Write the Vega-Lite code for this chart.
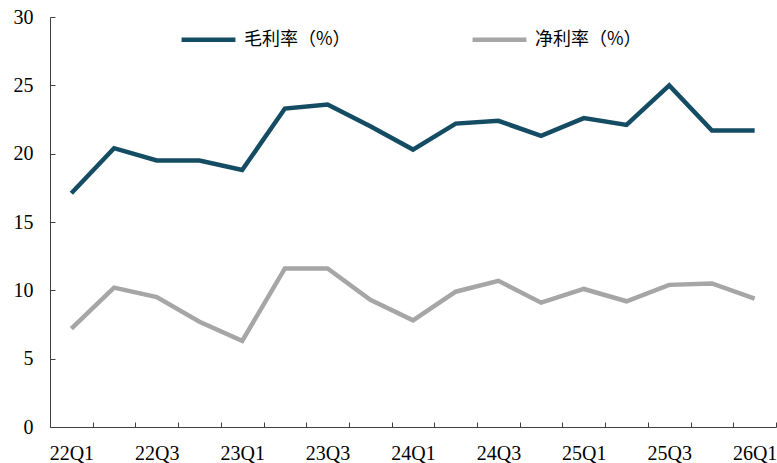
{
  "$schema": "https://vega.github.io/schema/vega-lite/v6.json",
  "width": 726,
  "height": 410,
  "autosize": {"type": "none"},
  "padding": {"left": 50, "top": 17, "right": 1, "bottom": 36},
  "background": "white",
  "config": {"view": {"stroke": null}},
  "data": {
    "values": [
      {"q": "22Q1", "s": "毛利率（%）", "v": 17.1},
      {"q": "22Q2", "s": "毛利率（%）", "v": 20.4},
      {"q": "22Q3", "s": "毛利率（%）", "v": 19.5},
      {"q": "22Q4", "s": "毛利率（%）", "v": 19.5},
      {"q": "23Q1", "s": "毛利率（%）", "v": 18.8},
      {"q": "23Q2", "s": "毛利率（%）", "v": 23.3},
      {"q": "23Q3", "s": "毛利率（%）", "v": 23.6},
      {"q": "23Q4", "s": "毛利率（%）", "v": 22.0},
      {"q": "24Q1", "s": "毛利率（%）", "v": 20.3},
      {"q": "24Q2", "s": "毛利率（%）", "v": 22.2},
      {"q": "24Q3", "s": "毛利率（%）", "v": 22.4},
      {"q": "24Q4", "s": "毛利率（%）", "v": 21.3},
      {"q": "25Q1", "s": "毛利率（%）", "v": 22.6},
      {"q": "25Q2", "s": "毛利率（%）", "v": 22.1},
      {"q": "25Q3", "s": "毛利率（%）", "v": 25.0},
      {"q": "25Q4", "s": "毛利率（%）", "v": 21.7},
      {"q": "26Q1", "s": "毛利率（%）", "v": 21.7},
      {"q": "22Q1", "s": "净利率（%）", "v": 7.2},
      {"q": "22Q2", "s": "净利率（%）", "v": 10.2},
      {"q": "22Q3", "s": "净利率（%）", "v": 9.5},
      {"q": "22Q4", "s": "净利率（%）", "v": 7.7},
      {"q": "23Q1", "s": "净利率（%）", "v": 6.3},
      {"q": "23Q2", "s": "净利率（%）", "v": 11.6},
      {"q": "23Q3", "s": "净利率（%）", "v": 11.6},
      {"q": "23Q4", "s": "净利率（%）", "v": 9.3},
      {"q": "24Q1", "s": "净利率（%）", "v": 7.8},
      {"q": "24Q2", "s": "净利率（%）", "v": 9.9},
      {"q": "24Q3", "s": "净利率（%）", "v": 10.7},
      {"q": "24Q4", "s": "净利率（%）", "v": 9.1},
      {"q": "25Q1", "s": "净利率（%）", "v": 10.1},
      {"q": "25Q2", "s": "净利率（%）", "v": 9.2},
      {"q": "25Q3", "s": "净利率（%）", "v": 10.4},
      {"q": "25Q4", "s": "净利率（%）", "v": 10.5},
      {"q": "26Q1", "s": "净利率（%）", "v": 9.4}
    ]
  },
  "mark": {"type": "line", "strokeWidth": 4.5, "strokeJoin": "miter", "strokeCap": "butt"},
  "encoding": {
    "x": {
      "field": "q",
      "type": "ordinal",
      "sort": null,
      "scale": {"type": "band", "paddingInner": 0, "paddingOuter": 0},
      "axis": {
        "title": null,
        "labelAngle": 0,
        "labelFont": "Liberation Serif",
        "labelFontSize": 20,
        "labelColor": "#000000",
        "labelExpr": "indexof(['22Q1','22Q3','23Q1','23Q3','24Q1','24Q3','25Q1','25Q3','26Q1'], datum.value) >= 0 ? datum.value : ''",
        "tickBand": "extent",
        "tickSize": -5,
        "labelPadding": 21,
        "domainColor": "#404040",
        "tickColor": "#404040",
        "domainWidth": 1,
        "tickWidth": 1
      }
    },
    "y": {
      "field": "v",
      "type": "quantitative",
      "scale": {"domain": [0, 30], "nice": false},
      "axis": {
        "title": null,
        "values": [0, 5, 10, 15, 20, 25, 30],
        "grid": false,
        "labelFont": "Liberation Serif",
        "labelFontSize": 20,
        "labelColor": "#000000",
        "tickSize": -5,
        "labelPadding": 22,
        "domainColor": "#404040",
        "tickColor": "#404040",
        "domainWidth": 1,
        "tickWidth": 1
      }
    },
    "color": {
      "field": "s",
      "type": "nominal",
      "sort": ["毛利率（%）", "净利率（%）"],
      "scale": {"domain": ["毛利率（%）", "净利率（%）"], "range": ["#144c63", "#a6a6a6"]},
      "legend": {
        "title": null,
        "orient": "none",
        "direction": "horizontal",
        "legendX": 129,
        "legendY": -7,
        "symbolType": "stroke",
        "symbolSize": 2900,
        "symbolStrokeWidth": 4.5,
        "labelFont": "Noto Sans CJK SC",
        "labelFontSize": 18,
        "labelColor": "#000000",
        "labelOffset": 6,
        "columnPadding": 112,
        "labelLimit": 300
      }
    }
  }
}
